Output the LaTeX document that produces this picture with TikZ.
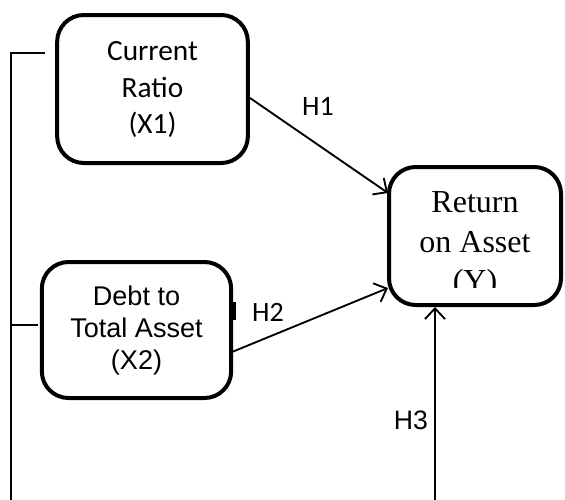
\documentclass[tikz,border=0pt]{standalone}
\usepackage{fontspec}
\setmainfont{Liberation Serif}
\newfontfamily\calib{Carlito}
\newfontfamily\arialf{Liberation Sans}
\usetikzlibrary{arrows.meta}

\tikzset{
	varbox/.style={draw,line width=3pt,rounded corners=20pt,align=center,inner sep=0pt},
	hyp/.style={line width=1.4pt,-{Straight Barb[length=8pt,width=15pt,line width=1.4pt]}},
	link/.style={line width=0.9pt}
}

\begin{document}
\begin{tikzpicture}[x=0.75pt,y=-0.75pt]
	\useasboundingbox (0,0) rectangle (565,500);
	\node[varbox,minimum width=143pt,minimum height=111pt,text depth=2pt,font=\calib\fontsize{22}{27.5}\selectfont] (cr) at (152.5,89) {Current\\Ratio\\(X1)};
	\node[varbox,minimum width=142pt,minimum height=102pt,font=\arialf\fontsize{20.3}{24}\selectfont] (dta) at (136.5,330) {Debt to\\Total Asset\\(X2)};
	\node[varbox,minimum width=129pt,minimum height=103.5pt] (roa) at (475,236) {};
	\begin{scope}
		\clip (390,170) rectangle (560,287);
		\node[align=center,font=\fontsize{24}{29.5}\selectfont] (roatxt) at (475,245) {Return\\on Asset\\(Y)};
	\end{scope}

	\coordinate (crout) at (250,98);
	\coordinate (dtaout) at (232,352);
	\coordinate (roain1) at (388,193);
	\coordinate (roain2) at (388,288);
	\coordinate (roain3) at (435,307);
	\coordinate (base) at (435,500);
	\draw[hyp] (crout) -- (roain1);
	\draw[hyp] (dtaout) -- (roain2);
	\draw[hyp] (base) -- (roain3);
	\node[font=\calib\fontsize{21}{24}\selectfont] (h1) at (318,106) {H1};
	\node[font=\calib\fontsize{21}{24}\selectfont] (h2) at (268,312) {H2};
	\node[font=\arialf\fontsize{20}{24}\selectfont] (h3) at (411,420) {H3};
	\coordinate (tick1) at (234,302);
	\coordinate (tick2) at (234,320);
	\draw[line width=2.4pt] (tick1) -- (tick2);

	\coordinate (ltop) at (45,53);
	\coordinate (lcorner) at (11,53);
	\coordinate (lbottom) at (11,500);
	\coordinate (lmid) at (11,325);
	\coordinate (lmidend) at (38,325);
	\draw[link] (ltop) -- (lcorner) -- (lbottom);
	\draw[link] (lmid) -- (lmidend);
\end{tikzpicture}
\end{document}
